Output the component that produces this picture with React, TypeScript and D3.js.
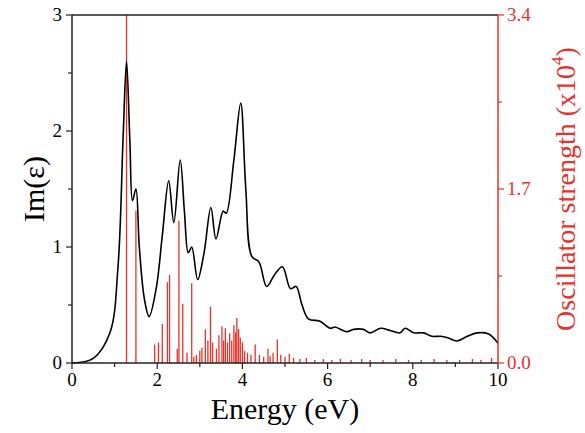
import React from "react";
import * as d3 from "d3";

// Im(eps) spectrum
const energy = [0, 0.5, 0.89, 1.08, 1.2, 1.28, 1.36, 1.42, 1.5, 1.58, 1.7, 1.81, 1.98, 2.12, 2.27, 2.39, 2.54, 2.64, 2.73, 2.81, 2.95, 3.1, 3.26, 3.38, 3.55, 3.62, 3.8, 3.96, 4.08, 4.22, 4.39, 4.57, 4.77, 4.94, 5.13, 5.26, 5.4, 5.55, 5.82, 6.06, 6.17, 6.45, 6.61, 6.84, 7.0, 7.24, 7.47, 7.7, 7.82, 8.02, 8.25, 8.45, 8.65, 8.8, 9.04, 9.28, 9.51, 9.78, 10];
const imEps = [0, 0.04, 0.26, 0.83, 1.95, 2.6, 1.9, 1.4, 1.5, 1.0, 0.55, 0.4, 0.65, 1.1, 1.57, 1.21, 1.75, 1.3, 0.95, 1.0, 0.72, 0.95, 1.34, 1.07, 1.31, 1.29, 1.75, 2.24, 1.5, 0.92, 0.87, 0.66, 0.77, 0.83, 0.64, 0.66, 0.5, 0.38, 0.36, 0.3, 0.31, 0.27, 0.29, 0.29, 0.26, 0.3, 0.28, 0.26, 0.3, 0.26, 0.26, 0.23, 0.23, 0.22, 0.19, 0.23, 0.26, 0.25, 0.17];

// oscillator strengths (x10^4)
const stickE = [1.28, 1.5, 1.94, 2.03, 2.12, 2.24, 2.29, 2.47, 2.51, 2.6, 2.81, 2.7, 2.86, 2.92, 3.0, 3.05, 3.13, 3.19, 3.25, 3.3, 3.39, 3.45, 3.52, 3.56, 3.6, 3.65, 3.7, 3.75, 3.8, 3.84, 3.87, 3.91, 3.95, 4.0, 4.05, 4.12, 4.2, 4.3, 4.4, 4.5, 4.6, 4.65, 4.72, 4.82, 4.9, 5.0, 5.1, 5.2, 5.35, 5.5, 5.7, 5.9, 6.1, 6.3, 6.55, 6.8, 7.0, 7.3, 7.6, 7.9, 8.2, 8.5, 8.8, 9.1, 9.4, 9.6, 9.85];
const stickF = [3.4, 1.49, 0.18, 0.2, 0.38, 0.79, 0.86, 0.14, 1.39, 0.58, 0.78, 0.1, 0.06, 0.08, 0.12, 0.15, 0.33, 0.22, 0.55, 0.2, 0.14, 0.27, 0.36, 0.22, 0.34, 0.2, 0.29, 0.22, 0.37, 0.3, 0.44, 0.33, 0.25, 0.2, 0.12, 0.1, 0.08, 0.18, 0.08, 0.06, 0.14, 0.07, 0.1, 0.23, 0.08, 0.06, 0.09, 0.05, 0.04, 0.05, 0.03, 0.04, 0.03, 0.04, 0.03, 0.04, 0.03, 0.03, 0.04, 0.03, 0.03, 0.04, 0.03, 0.03, 0.04, 0.03, 0.05];

const leftTicks = [0, 1, 2, 3];
const rightTicks = [0, 1.7, 3.4];
const xTicks = [0, 2, 4, 6, 8, 10];

const W = 585, H = 433;
const m = { left: 72, right: 87, top: 15, bottom: 70 };
const red = "#e8322b";
const font = "'Liberation Serif', 'Times New Roman', serif";

export default function App() {
  const x = d3.scaleLinear().domain([0, 10]).range([m.left, W - m.right]);
  const y = d3.scaleLinear().domain([0, 3]).range([H - m.bottom, m.top]);
  const y2 = d3.scaleLinear().domain([0, 3.4]).range([H - m.bottom, m.top]);
  const pts = energy.map((e, i) => [e, imEps[i]] as [number, number]);
  const line = d3.line<[number, number]>().x(d => x(d[0])).y(d => y(d[1])).curve(d3.curveCatmullRom.alpha(0.5));
  const x0 = x(0), x1 = x(10), yb = y(0), yt = y(3);

  return (
    <svg width={W} height={H} style={{ position: "absolute", left: 0, top: 0 }} fontFamily={font}>
      {stickE.map((e, i) => (
        <line key={i} x1={x(e)} x2={x(e)} y1={yb} y2={y2(stickF[i])} stroke={red} strokeWidth={1.3} />
      ))}
      <path d={line(pts)!} fill="none" stroke="#000" strokeWidth={1.6} />
      <line x1={x0} x2={x1} y1={yt} y2={yt} stroke="#222" strokeWidth={1.5} />
      <line x1={x0} x2={x1} y1={yb} y2={yb} stroke="#222" strokeWidth={1.5} />
      <line x1={x0} x2={x0} y1={yt} y2={yb} stroke="#222" strokeWidth={1.5} />
      <line x1={x1} x2={x1} y1={yt} y2={yb} stroke={red} strokeWidth={1.5} />
      {d3.range(0, 10.01, 1).map(v => (
        <line key={"xt" + v} x1={x(v)} x2={x(v)} y1={yb} y2={yb + (v % 2 === 0 ? 6 : 4)} stroke="#222" strokeWidth={1.2} />
      ))}
      {xTicks.map(v => (
        <text key={"xl" + v} x={x(v)} y={yb + 23} textAnchor="middle" fontSize={19}>{v}</text>
      ))}
      {d3.range(0, 3.01, 0.5).map(v => (
        <line key={"yt" + v} x1={x0} x2={x0 - (v % 1 === 0 ? 6 : 4)} y1={y(v)} y2={y(v)} stroke="#222" strokeWidth={1.2} />
      ))}
      {leftTicks.map(v => (
        <text key={"yl" + v} x={x0 - 10} y={y(v) + 6} textAnchor="end" fontSize={19}>{v}</text>
      ))}
      {[0, 0.85, 1.7, 2.55, 3.4].map(v => (
        <line key={"rt" + v} x1={x1} x2={x1 + (rightTicks.includes(v) ? 6 : 4)} y1={y2(v)} y2={y2(v)} stroke={red} strokeWidth={1.2} />
      ))}
      {rightTicks.map(v => (
        <text key={"rl" + v} x={x1 + 9} y={y2(v) + 6} fontSize={19} fill={red}>{v.toFixed(1)}</text>
      ))}
      <text x={(x0 + x1) / 2} y={H - 14} textAnchor="middle" fontSize={30}>Energy (eV)</text>
      <text transform={`translate(44,${(yt + yb) / 2}) rotate(-90)`} textAnchor="middle" fontSize={30}>Im(ε)</text>
      <text transform={`translate(575,${(yt + yb) / 2}) rotate(-90)`} textAnchor="middle" fontSize={28} fill={red}>
        Oscillator strength (x10<tspan fontSize={17} dy={-12}>4</tspan><tspan dy={12}>)</tspan>
      </text>
    </svg>
  );
}
